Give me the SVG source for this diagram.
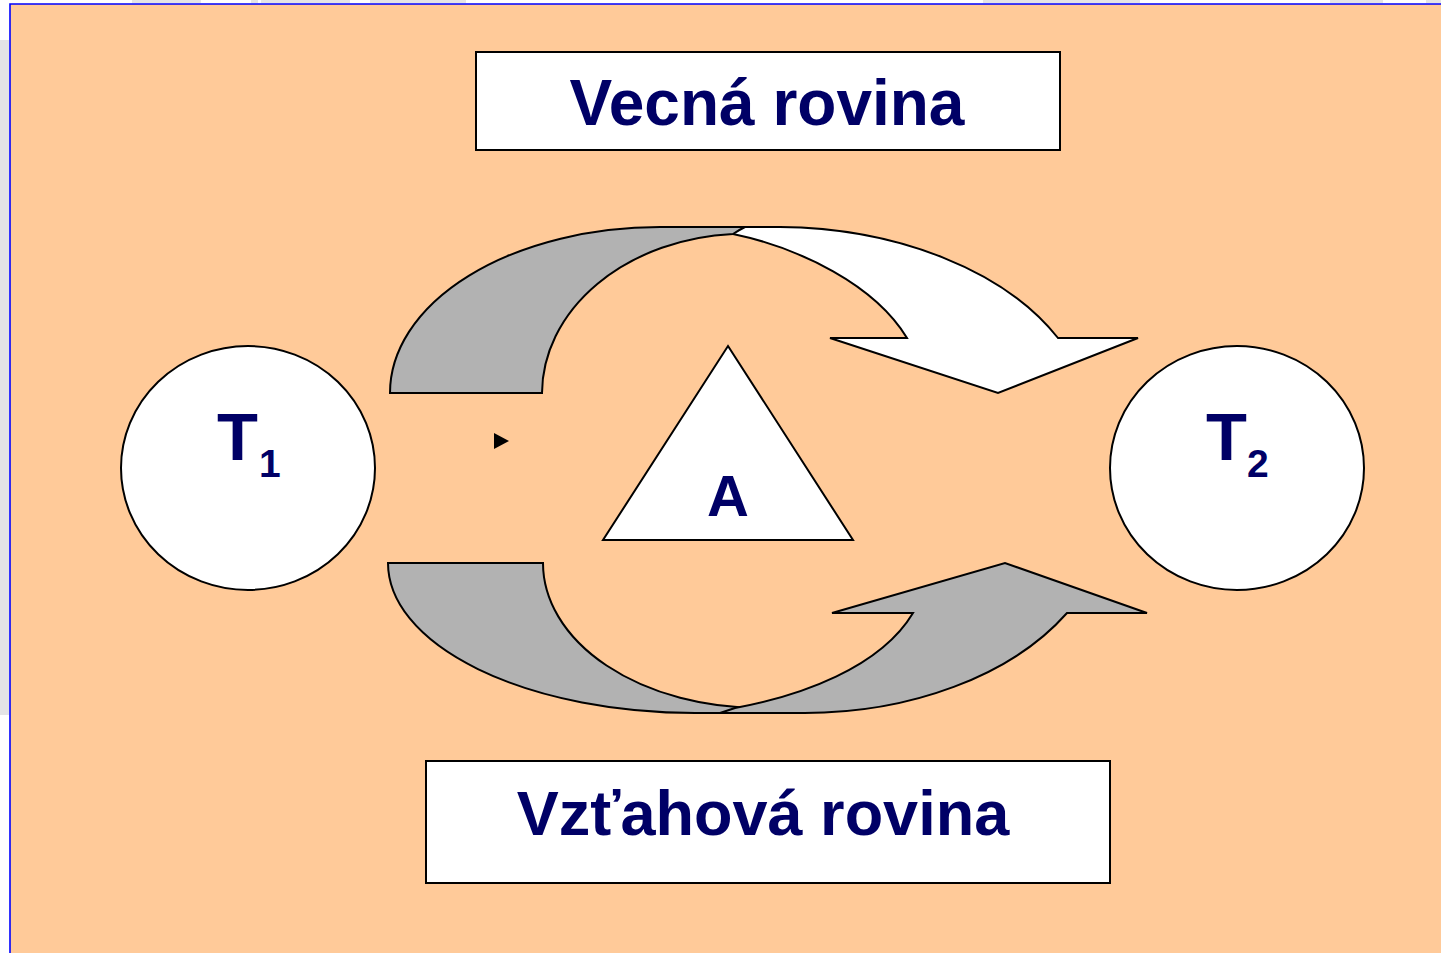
<svg xmlns="http://www.w3.org/2000/svg" width="1441" height="953" viewBox="0 0 1441 953">
<defs>
<style>
.ln{stroke:#000;stroke-width:2;stroke-linejoin:miter}
.box{fill:#fff;stroke:#000;stroke-width:2}
.lbl{font-family:"Liberation Sans",Arial,sans-serif;font-weight:bold;fill:#000066}
.gray{fill:#B2B2B2}
.white{fill:#fff}
.edge{fill:#E4E4E6}
</style>
</defs>
<rect x="0" y="0" width="1441" height="953" fill="#fff"/>
<g id="frame-edges">
<rect class="edge" x="0" y="40" width="9" height="675"/>
<rect class="edge" x="132" y="0" width="69" height="3"/>
<rect class="edge" x="251" y="0" width="7" height="3"/>
<rect class="edge" x="261" y="0" width="89" height="3"/>
<rect class="edge" x="370" y="0" width="96" height="3"/>
<rect class="edge" x="983" y="0" width="157" height="3"/>
<rect class="edge" x="1330" y="0" width="53" height="3"/>
<rect class="edge" x="1426" y="0" width="15" height="3"/>
</g>
<rect id="background" x="10" y="4" width="1431" height="949" fill="#FFCA99"/>
<path d="M10,953 L10,4 L1441,4" fill="none" stroke="#0000FF" stroke-width="1.6"/>

<g id="connectors">
<g id="top-arrow">
<path class="white ln" d="M712,227 Q722,229 733,234 C800,248 875,285 907,338 L830,338 L998,393 L1138,338 L1058,338 A316 203 0 0 0 780,227 Z"/>
<path class="gray ln" d="M390,393 A270 166 0 0 1 660,227 L745,227 Q739,230 733,234 A203 160 0 0 0 542,393 Z"/>
</g>
<g id="bottom-arrow">
<path class="gray ln" d="M388,563 L543,563 A217 145 0 0 0 760,708 L800,713 L695,713 A307 150 0 0 1 388,563 Z"/>
<path class="gray ln" d="M735,708 C800,696 880,668 913,613 L832,613 L1005,563 L1147,613 L1067,613 A305 203 0 0 1 800,713 L720,713 Z"/>
</g>
<path id="small-marker" d="M494,433 L509,441 L494,449 Z" fill="#000"/>
</g>

<g id="node-vecna">
<rect class="box" x="476" y="52" width="584" height="98"/>
<text class="lbl" x="767" y="125" font-size="64" text-anchor="middle">Vecná rovina</text>
</g>
<g id="node-vztahova">
<rect class="box" x="426" y="761" width="684" height="122"/>
<text class="lbl" x="763" y="835" font-size="63" text-anchor="middle">Vzťahová rovina</text>
</g>
<g id="node-t1">
<ellipse class="box" cx="248" cy="468" rx="127" ry="122"/>
<text class="lbl" x="217" y="460" font-size="67">T</text>
<text class="lbl" x="259" y="477" font-size="39">1</text>
</g>
<g id="node-t2">
<ellipse class="box" cx="1237" cy="468" rx="127" ry="122"/>
<text class="lbl" x="1206" y="460" font-size="67">T</text>
<text class="lbl" x="1247" y="477" font-size="39">2</text>
</g>
<g id="node-a">
<path class="box" d="M728,346 L853,540 L603,540 Z"/>
<text class="lbl" x="728" y="516" font-size="58" text-anchor="middle">A</text>
</g>
</svg>
